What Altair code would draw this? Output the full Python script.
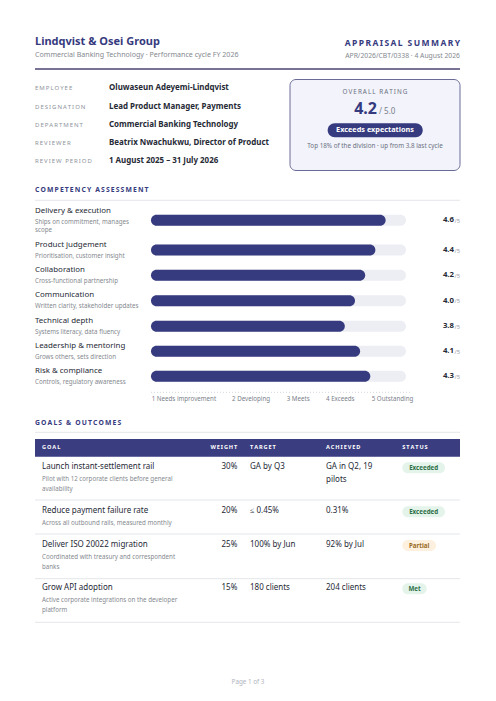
import altair as alt
import pandas as pd

# ---------------- data ----------------
ORG = "Lindqvist & Osei Group"
SUBTITLE = "Commercial Banking Technology · Performance cycle FY 2026"
DOC_TITLE = "APPRAISAL SUMMARY"
DOC_REF = "APR/2026/CBT/0338 · 4 August 2026"

INFO_LABELS = ["EMPLOYEE", "DESIGNATION", "DEPARTMENT", "REVIEWER", "REVIEW PERIOD"]
INFO_VALUES = ["Oluwaseun Adeyemi-Lindqvist", "Lead Product Manager, Payments",
               "Commercial Banking Technology", "Beatrix Nwachukwu, Director of Product",
               "1 August 2025 – 31 July 2026"]

OVERALL_LABEL = "OVERALL RATING"
OVERALL_SCORE = 4.2
OVERALL_MAX = 5.0
OVERALL_BAND = "Exceeds expectations"
OVERALL_NOTE = "Top 18% of the division · up from 3.8 last cycle"

COMP_TITLE = "COMPETENCY ASSESSMENT"
COMP_NAMES = ["Delivery & execution", "Product judgement", "Collaboration", "Communication",
              "Technical depth", "Leadership & mentoring", "Risk & compliance"]
COMP_DESCS = ["Ships on commitment, manages\nscope", "Prioritisation, customer insight",
              "Cross-functional partnership", "Written clarity, stakeholder updates",
              "Systems literacy, data fluency", "Grows others, sets direction",
              "Controls, regulatory awareness"]
COMP_SCORES = [4.6, 4.4, 4.2, 4.0, 3.8, 4.1, 4.3]
SCALE_MAX = 5
SCALE_LABELS = ["1 Needs improvement", "2 Developing", "3 Meets", "4 Exceeds", "5 Outstanding"]

GOALS_TITLE = "GOALS & OUTCOMES"
GOAL_HEADERS = ["GOAL", "WEIGHT", "TARGET", "ACHIEVED", "STATUS"]
GOAL_TITLES = ["Launch instant-settlement rail", "Reduce payment failure rate",
               "Deliver ISO 20022 migration", "Grow API adoption"]
GOAL_DESCS = ["Pilot with 12 corporate clients before general\navailability",
              "Across all outbound rails, measured monthly",
              "Coordinated with treasury and correspondent\nbanks",
              "Active corporate integrations on the developer\nplatform"]
GOAL_WEIGHTS = ["30%", "20%", "25%", "15%"]
GOAL_TARGETS = ["GA by Q3", "≤ 0.45%", "100% by Jun", "180 clients"]
GOAL_ACHIEVED = ["GA in Q2, 19\npilots", "0.31%", "92% by Jul", "204 clients"]
GOAL_STATUS = ["Exceeded", "Exceeded", "Partial", "Met"]
FOOTER = "Page 1 of 3"

# ---------------- layout / style ----------------
FONT = "Noto Sans"
INDIGO = "#363a7e"
DARK = "#262a36"
GRAY = "#85898f"
LIGHT = "#e4e6eb"
PILL = {"Exceeded": ("#e4f4ea", "#2e6e48", 42.7),
        "Partial": ("#fdf0de", "#9a6a25", 33.7),
        "Met": ("#e4f4ea", "#2e6e48", 24.4)}

PX = alt.Scale(domain=[8, 488], range=[0, 480], nice=False, zero=False)
PY = alt.Scale(domain=[8, 693], range=[0, 685], nice=False, zero=False)
RS = alt.Scale(domain=[0, SCALE_MAX], range=[143, 398], nice=False, zero=False)


def spaced(s):
    return "\u2009".join(list(s))


def text_layer(rows, size, color, weight="normal", align="left", baseline="middle"):
    df = pd.DataFrame(rows, columns=["x", "y", "t"])
    return alt.Chart(df).mark_text(
        fontSize=size, color=color, fontWeight=weight, align=align,
        baseline=baseline, font=FONT
    ).encode(x=alt.X("x:Q", scale=PX, axis=None),
             y=alt.Y("y:Q", scale=PY, axis=None),
             text="t:N")


def multiline(x, y0, s, lh):
    return [(x, y0 + i * lh, line) for i, line in enumerate(s.split("\n"))]


def rect_layer(rows, fill, radius=0, stroke=None, sw=0):
    df = pd.DataFrame(rows, columns=["x", "x2", "y", "y2"])
    kw = dict(fill=fill, cornerRadius=radius)
    if stroke:
        kw.update(stroke=stroke, strokeWidth=sw)
    return alt.Chart(df).mark_rect(**kw).encode(
        x=alt.X("x:Q", scale=PX, axis=None), x2="x2:Q",
        y=alt.Y("y:Q", scale=PY, axis=None), y2="y2:Q")


def rule_layer(rows, color, width=1, dash=None):
    df = pd.DataFrame(rows, columns=["x", "x2", "y"])
    kw = dict(color=color, strokeWidth=width)
    if dash:
        kw["strokeDash"] = dash
    return alt.Chart(df).mark_rule(**kw).encode(
        x=alt.X("x:Q", scale=PX, axis=None), x2="x2:Q",
        y=alt.Y("y:Q", scale=PY, axis=None))


layers = []

# header
layers.append(text_layer([(35, 42.3, ORG)], 11, INDIGO, "bold"))
layers.append(text_layer([(35, 55, SUBTITLE)], 7.1, GRAY))
layers.append(text_layer([(460, 43, spaced(DOC_TITLE))], 8.5, INDIGO, "bold", "right"))
layers.append(text_layer([(460, 56.3, DOC_REF)], 6.8, GRAY, align="right"))
layers.append(rule_layer([(35, 460, 69)], "#4b4570", 1.5))

# info block
INFO_Y = [88, 106.5, 124.8, 143.1, 161.4]
layers.append(text_layer([(35, y, spaced(l)) for y, l in zip(INFO_Y, INFO_LABELS)], 6, "#8e939c"))
layers.append(text_layer([(109, y, v) for y, v in zip(INFO_Y, INFO_VALUES)], 7.95, DARK, "bold"))

# rating box
layers.append(rect_layer([(290, 460, 79.5, 170.5)], "#f2f3fb", 6, "#6a6a98", 1))
layers.append(text_layer([(375, 91.7, spaced(OVERALL_LABEL))], 6.3, "#6b7080", align="center"))
layers.append(text_layer([(377, 113.5, f"{OVERALL_SCORE:.1f}")], 16, INDIGO, "bold", "right", "alphabetic"))
layers.append(text_layer([(379, 113.5, f"/ {OVERALL_MAX:.1f}")], 8, "#7a7f8a", baseline="alphabetic"))
layers.append(rect_layer([(327.7, 422.7, 123.3, 137.3)], INDIGO, 7))
layers.append(text_layer([(375, 130.3, OVERALL_BAND)], 7.3, "white", "bold", "center"))
layers.append(text_layer([(375, 145.5, OVERALL_NOTE)], 6.3, "#6b7080", align="center"))

# competency section
layers.append(text_layer([(35, 190.3, spaced(COMP_TITLE))], 6.8, INDIGO, "bold"))
layers.append(rule_layer([(35, 460, 200.3)], LIGHT, 1))
NAME_Y = [211.3, 245.3, 270.3, 295.3, 321.3, 346.3, 371.3]
BAR_Y = [220.3, 250, 275.3, 300.7, 326.3, 351.3, 376.3]
layers.append(text_layer([(35, y, n) for y, n in zip(NAME_Y, COMP_NAMES)], 7.9, DARK))
desc_rows = []
for y, d in zip(NAME_Y, COMP_DESCS):
    desc_rows += multiline(35, y + 10.3, d, 8.2)
layers.append(text_layer(desc_rows, 6.2, GRAY))

comp = pd.DataFrame({"name": COMP_NAMES, "score": COMP_SCORES, "yc": BAR_Y})
base = alt.Chart(comp).transform_calculate(
    y0="datum.yc - 5.5", y1="datum.yc + 5.5", zero="0", full=str(SCALE_MAX))
track = base.mark_rect(fill="#eceef3", cornerRadius=5.5).encode(
    x=alt.X("zero:Q", scale=RS, axis=None), x2="full:Q",
    y=alt.Y("y0:Q", scale=PY, axis=None), y2="y1:Q")
bars = base.mark_rect(fill=INDIGO, cornerRadius=5.5).encode(
    x=alt.X("zero:Q", scale=RS, axis=None), x2="score:Q",
    y=alt.Y("y0:Q", scale=PY, axis=None), y2="y1:Q")
layers += [track, bars]
layers.append(text_layer([(454, y, f"{s:.1f}") for y, s in zip(BAR_Y, COMP_SCORES)], 7.8, DARK, "bold", "right"))
layers.append(text_layer([(460, y + 0.5, f"/{SCALE_MAX}") for y in BAR_Y], 5.8, "#9aa0aa", align="right"))
layers.append(rule_layer([(151, 412, 392.3)], "#d3d6dc", 1, [1, 2]))
SCALE_X = [151.7, 232, 286.7, 326, 371.7]
layers.append(text_layer([(x, 398.7, l) for x, l in zip(SCALE_X, SCALE_LABELS)], 6.2, "#7a808a"))

# goals section
layers.append(text_layer([(35, 423.3, spaced(GOALS_TITLE))], 6.8, INDIGO, "bold"))
layers.append(rule_layer([(35, 460, 432.3)], LIGHT, 1))
layers.append(rect_layer([(35, 460, 439, 456.7)], "#3a3d80"))
HEAD_X = [42, 237.3, 250, 326, 402.3]
HEAD_ALIGN = ["left", "right", "left", "left", "left"]
for x, h, a in zip(HEAD_X, GOAL_HEADERS, HEAD_ALIGN):
    layers.append(text_layer([(x, 446.7, spaced(h))], 5.6, "white", "bold", a))

ROW_Y = [467.3, 511.3, 545, 588.3]
SEP_Y = [500, 534, 578.7, 622.3]
layers.append(rule_layer([(35, 460, y) for y in SEP_Y], LIGHT, 1))
layers.append(text_layer([(42, y, t) for y, t in zip(ROW_Y, GOAL_TITLES)], 8, DARK))
gd = []
for y, d in zip(ROW_Y, GOAL_DESCS):
    gd += multiline(42, y + 12, d, 10)
layers.append(text_layer(gd, 6.2, GRAY))
layers.append(text_layer([(237.3, y, w) for y, w in zip(ROW_Y, GOAL_WEIGHTS)], 8, DARK, align="right"))
layers.append(text_layer([(250, y, t) for y, t in zip(ROW_Y, GOAL_TARGETS)], 8, DARK))
ga = []
for y, a in zip(ROW_Y, GOAL_ACHIEVED):
    ga += multiline(326, y, a, 12.4)
layers.append(text_layer(ga, 8, DARK))
for y, s in zip(ROW_Y, GOAL_STATUS):
    bg, fg, w = PILL[s]
    layers.append(rect_layer([(402.3, 402.3 + w, y - 5, y + 6)], bg, 5.5))
    layers.append(text_layer([(402.3 + w / 2, y + 0.5, s)], 6.2, fg, "bold", "center"))

# footer
layers.append(text_layer([(248, 682, FOOTER)], 6.3, "#b0b4bc", align="center"))

chart = alt.layer(*layers).resolve_scale(x="independent", y="independent").properties(
    width=480, height=685, padding=0, autosize=alt.AutoSizeParams(type="none"),
    background="white"
).configure_view(stroke=None)

chart.save("out.html", embed_options={"renderer": "svg", "actions": False})
